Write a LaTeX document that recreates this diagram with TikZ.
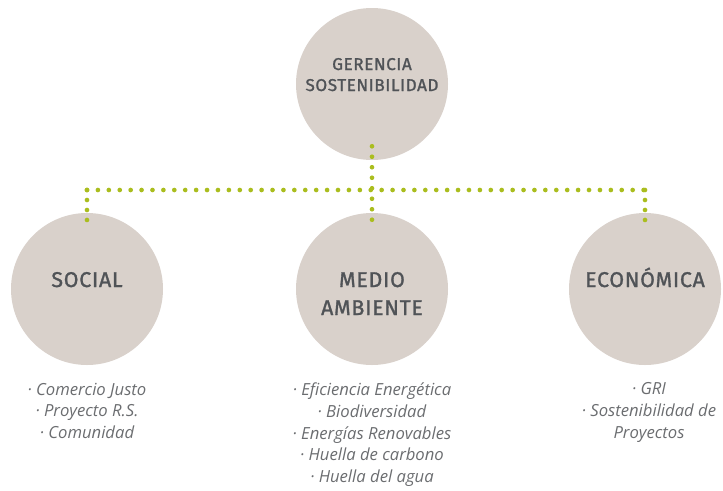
\documentclass[tikz,border=0pt]{standalone}
\usepackage{fontspec}
\setmainfont{Open Sans}
\newfontfamily\capsFont{Fira Sans}[LetterSpace=3.5, FakeBold=1.3]
\usetikzlibrary{positioning,calc}
\definecolor{bubbleGray}{HTML}{D9D1CB}
\definecolor{labelGray}{HTML}{505357}
\definecolor{listGray}{HTML}{6B6D70}
\definecolor{dotGreen}{HTML}{AABD1E}
% one row of round dots, #1 is the gap between two dots
\newcommand{\dotRow}[3]{%
  \draw[dotStyle, dash pattern=on 0pt off #1] #2 -- #3;
}

\begin{document}
\begin{tikzpicture}[%
  x=0.75pt, y=-0.75pt,
  bubble/.style={circle, fill=bubbleGray, minimum size=114pt, inner sep=0pt},
  bubbleText/.style={text=labelGray, align=center, inner sep=0pt, anchor=base,
    font=\capsFont\fontsize{16}{21}\selectfont},
  topText/.style={bubbleText, font=\capsFont\fontsize{12.8}{15.75}\selectfont},
  listStyle/.style={text=listGray, align=center, inner sep=0pt,
    font=\itshape\fontsize{12.5}{16.3}\selectfont},
  dotStyle/.style={draw=dotGreen, line width=3.5pt, line cap=round}
]
\useasboundingbox (0,0) rectangle (723,490);
%
%
\pgfmathsetmacro{\rowY}{190}   % Height of the horizontal row of dots.
\pgfmathsetmacro{\lowY}{289}   % Centre height of the three lower circles.
%
% The circles.
\node[bubble] (gerencia) at (372,84) {};
\node[bubble] (social) at (87,\lowY) {};
\node[bubble] (medio) at (372,\lowY) {};
\node[bubble] (economica) at (645,\lowY) {};
%
% The dotted connectors.
\coordinate (split) at (gerencia |- 0,\rowY);
\coordinate (leftTurn) at (social |- 0,\rowY);
\coordinate (rightTurn) at (economica |- 0,\rowY);
\dotRow{7.87pt}{($(gerencia.south)+(0,-14)$)}{($(medio.north)+(0,17)$)}
\dotRow{8.185pt}{(leftTurn)}{(rightTurn)}
\dotRow{7.49pt}{(leftTurn)}{($(social.north)+(0,17)$)}
\dotRow{7.49pt}{(rightTurn)}{($(economica.north)+(0,17)$)}
%
% The names in the circles (base = baseline of the last line).
\node[topText] (gerenciaText) at ($(gerencia)+(0,7)$) {GERENCIA\\SOSTENIBILIDAD};
\node[bubbleText] (socialText) at ($(social)+(0,-2)$) {SOCIAL};
\node[bubbleText] (medioText) at ($(medio)+(0,26)$) {MEDIO\\AMBIENTE};
\node[bubbleText] (economicaText) at ($(economica)+(0,-2)$) {ECONÓMICA};
%
% The lists below the circles.
\node[listStyle, below=13pt of social] (socialList)
  {· Comercio Justo\\· Proyecto R.S.\\· Comunidad};
\node[listStyle, below=13pt of medio] (medioList)
  {· Eficiencia Energética\\· Biodiversidad\\· Energías Renovables\\
   · Huella de carbono\\· Huella del agua};
\node[listStyle, below=13pt of economica, xshift=3pt] (economicaList)
  {· GRI\\· Sostenibilidad de\\Proyectos};
\end{tikzpicture}
\end{document}
